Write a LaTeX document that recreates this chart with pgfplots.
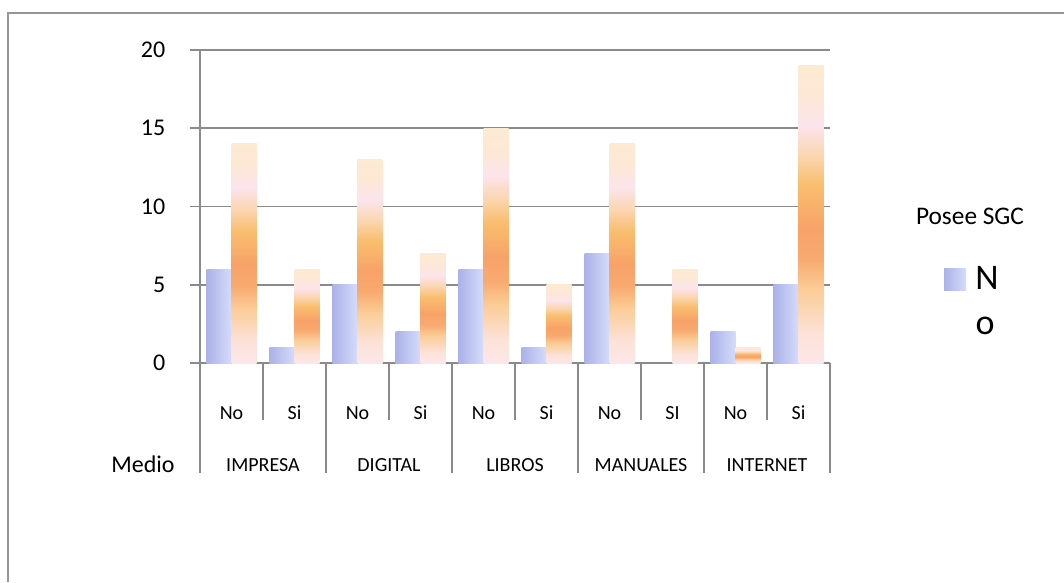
\documentclass[border=0pt]{standalone}
\usepackage{pgfplots}
\pgfplotsset{compat=1.18}
\usepackage{fontspec}
\setmainfont{Carlito}

\definecolor{gridc}{RGB}{138,138,138}
\definecolor{framec}{RGB}{150,150,150}
% lavender bars, darker on the left edge
\definecolor{bl}{RGB}{170,178,232}
\definecolor{br}{RGB}{214,220,251}
% orange bars, from the bottom to the top
\definecolor{o0}{RGB}{252,230,232}
\definecolor{o1}{RGB}{252,226,216}
\definecolor{o2}{RGB}{251,204,150}
\definecolor{o3}{RGB}{248,170,112}
\definecolor{o4}{RGB}{248,162,104}
\definecolor{o5}{RGB}{249,190,110}
\definecolor{o6}{RGB}{251,214,176}
\definecolor{o7}{RGB}{252,228,236}
\definecolor{o8}{RGB}{253,232,214}
\definecolor{o9}{RGB}{253,234,210}

\pgfdeclarehorizontalshading{bluebar}{100bp}{color(0bp)=(bl); color(25bp)=(bl); color(75bp)=(br); color(100bp)=(br)}
\pgfdeclareverticalshading{orangebar}{100bp}{color(0bp)=(o0); color(25bp)=(o0); color(30bp)=(o1); color(37.5bp)=(o2); color(42.5bp)=(o3); color(47.5bp)=(o4); color(55bp)=(o5); color(60bp)=(o6); color(65bp)=(o7); color(70bp)=(o8); color(75bp)=(o9); color(100bp)=(o9)}

\pgfplotsset{
  sgcno/.style={ybar, bar width=18.75pt, bar shift=-9.375pt, draw=none, shade, shading=bluebar},
  sgcsi/.style={ybar, bar width=18.75pt, bar shift=9.375pt, draw=none, shade, shading=orangebar},
}
% one pair of bars per answer: position, count with SGC = No, count with SGC = Si
% (each bar is its own plot so that its gradient spans its own height)
\newcommand\barras[3]{%
  \addplot[sgcno] coordinates {(#1,#2)};
  \addplot[sgcsi] coordinates {(#1,#3)};
}
\newcommand\sep[2]{\draw[gridc, line width=1.2pt] (axis cs:#1,0) -- ([yshift=-#2]axis cs:#1,0);}

\begin{document}
\begin{tikzpicture}
\begin{scope}[x=0.75pt,y=-0.75pt]
  \useasboundingbox (0,0) rectangle (1064,582);
  \draw[framec, line width=1.5pt] (8,582) -- (8,13) -- (1064,13);
  \node[font=\fontsize{18}{18}\selectfont] at (143,464) {Medio};
  \node[font=\fontsize{19}{19}\selectfont] at (970,216) {Posee SGC};
  \shade[shading=bluebar] (944,268) rectangle (966,290);
  \node[font=\fontsize{27}{27}\selectfont] at (987,278) {N};
  \node[font=\fontsize{27}{27}\selectfont] at (985,326) {o};
\end{scope}

\begin{axis}[
  at={(150pt,-272.25pt)}, anchor=south west,
  scale only axis, width=472.5pt, height=234.75pt,
  xmin=-0.5, xmax=9.5, ymin=0, ymax=20,
  clip=false,
  axis lines=left,
  axis line style={gridc, line width=1.2pt, -},
  ytick={0,5,10,15,20},
  ymajorgrids,
  grid style={gridc, line width=1.2pt},
  tick align=outside,
  major tick length=7.5pt,
  ytick style={gridc, line width=1.2pt},
  xtick={0,...,9},
  xticklabels={No,Si,No,Si,No,Si,No,SI,No,Si},
  major x tick style={draw=none},
  /pgf/number format/assume math mode=true,
  yticklabel style={font=\fontsize{18}{18}\selectfont, xshift=-15pt},
  xticklabel style={font=\fontsize{15}{15}\selectfont, anchor=center, yshift=-30pt},
]
% IMPRESA
\barras{0}{6}{14}
\barras{1}{1}{6}
% DIGITAL
\barras{2}{5}{13}
\barras{3}{2}{7}
% LIBROS
\barras{4}{6}{15}
\barras{5}{1}{5}
% MANUALES
\barras{6}{7}{14}
\barras{7}{0}{6}
% INTERNET
\barras{8}{2}{1}
\barras{9}{5}{19}

% category table under the axis
\sep{-0.5}{82.5pt}
\sep{1.5}{82.5pt}
\sep{3.5}{82.5pt}
\sep{5.5}{82.5pt}
\sep{7.5}{82.5pt}
\sep{9.5}{82.5pt}
\sep{0.5}{42.75pt}
\sep{2.5}{42.75pt}
\sep{4.5}{42.75pt}
\sep{6.5}{42.75pt}
\sep{8.5}{42.75pt}
\node[font=\fontsize{15}{15}\selectfont] at (axis cs:0.5,0) [yshift=-76.5pt] {IMPRESA};
\node[font=\fontsize{15}{15}\selectfont] at (axis cs:2.5,0) [yshift=-76.5pt] {DIGITAL};
\node[font=\fontsize{15}{15}\selectfont] at (axis cs:4.5,0) [yshift=-76.5pt] {LIBROS};
\node[font=\fontsize{15}{15}\selectfont] at (axis cs:6.5,0) [yshift=-76.5pt] {MANUALES};
\node[font=\fontsize{15}{15}\selectfont] at (axis cs:8.5,0) [yshift=-76.5pt] {INTERNET};
\end{axis}
\end{tikzpicture}
\end{document}
